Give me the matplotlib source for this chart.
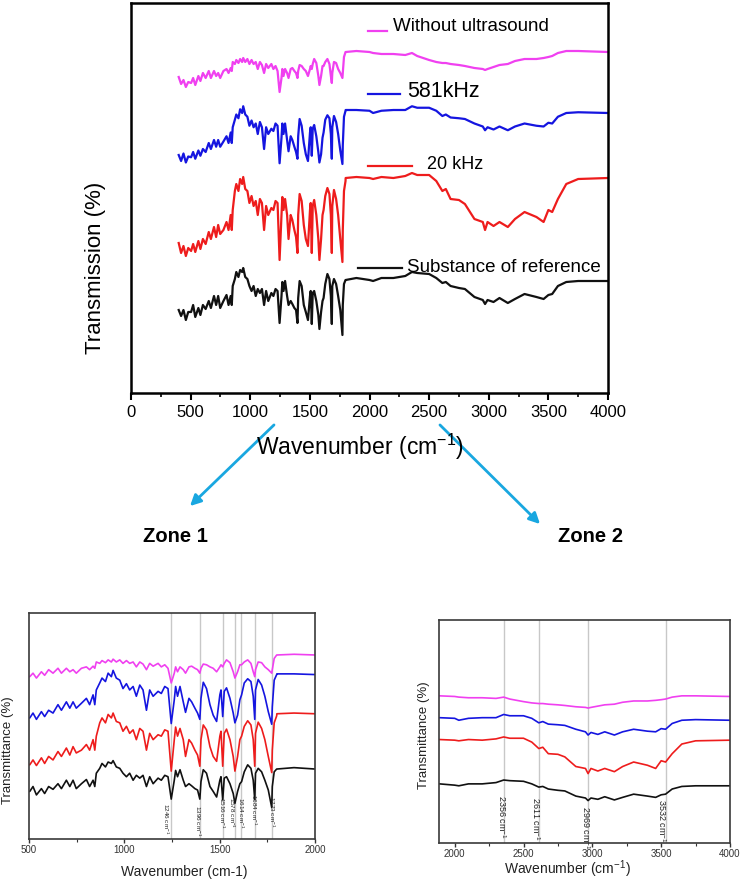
import numpy as np
import matplotlib.pyplot as plt
from matplotlib.patches import FancyArrowPatch
from matplotlib.lines import Line2D
from matplotlib.ticker import MultipleLocator

plt.rcParams['font.family'] = ['Liberation Sans', 'DejaVu Sans']
plt.rcParams['mathtext.fontset'] = 'custom'
plt.rcParams['mathtext.rm'] = 'Liberation Sans'
plt.rcParams['mathtext.it'] = 'Liberation Sans:italic'

# --- spectra (relative transmission, 0 = flat baseline near 2000 cm-1) ---
wn_low = [400, 420, 440, 460, 480,
          504, 521, 539, 565, 582, 603, 626, 652, 670, 696,
          714, 731, 748, 775, 801, 818, 836, 845, 853, 871,
          883, 901, 915, 932, 941, 958, 976, 993, 1011, 1028,
          1046, 1063, 1081, 1098, 1116, 1133, 1151, 1177, 1194, 1212,
          1229,
          1246, 1262, 1269, 1279, 1292, 1309, 1321, 1339, 1353, 1370,
          1384, 1396, 1402, 1414, 1431, 1449, 1466, 1484, 1501, 1507,
          1516, 1524, 1536, 1554, 1571, 1580, 1594, 1606, 1615, 1629,
          1647, 1664, 1676, 1684, 1688, 1702, 1720, 1737, 1755, 1773,
          1776, 1786, 1799]
wn_high = [1800, 1890, 2000, 2030, 2100, 2200, 2300, 2356, 2400, 2500,
           2560, 2611, 2640, 2680, 2750, 2800, 2880, 2950, 2969, 2990,
           3040, 3090, 3160, 3220, 3300, 3400, 3460, 3500, 3532, 3580,
           3650, 3750, 4000]

ref_low = [-30, -36, -30, -40, -32,
           -32, -25, -37, -28, -35, -25, -29, -21, -28, -16,
           -25, -16, -28, -21, -15, -25, -16, -25, -6, 1,
           8, 3, 10, 8, 12, 3, 1, -6, -11, -6,
           -16, -9, -13, -9, -25, -11, -21, -13, -16, -9,
           -11,
           -43, -16, -2, -11, -1, -16, -25, -21, -24, -28,
           -30, -43, -18, -1, -6, -25, -32, -40, -16, -11,
           -44, -13, -11, -21, -35, -49, -32, -21, -18, -4,
           6, 1, -16, -44, -6, 1, -4, -16, -30, -55,
           -25, -4, 0]
ref_high = [0, 2, 0, -1, 2, 2, 4, 8, 7, 6,
            2, -3, -2, -6, -8, -9, -17, -20, -24, -20,
            -22, -18, -23, -19, -14, -17, -19, -15, -14, -6,
            -2, -1, -1]

khz20_low = [-65, -75, -68, -78, -70,
             -73, -66, -74, -63, -71, -61, -66, -54, -61, -49,
             -59, -47, -56, -52, -44, -52, -37, -52, -32, -13,
             -6, -13, -1, -6, 1, -11, -13, -25, -18, -28,
             -23, -37, -21, -25, -52, -28, -37, -30, -32, -23,
             -25,
             -82, -37, -19, -32, -21, -37, -61, -37, -42, -52,
             -59, -75, -37, -16, -23, -47, -61, -68, -32, -25,
             -75, -28, -22, -37, -61, -82, -61, -37, -32, -18,
             -10, -16, -37, -75, -28, -12, -21, -37, -61, -84,
             -52, -13, -3]
khz20_high = [0, 1, 0, -1, 1, 0, 2, 5, 3, 3,
              -3, -13, -11, -21, -22, -26, -41, -44, -52, -44,
              -48, -44, -49, -41, -34, -39, -44, -32, -34, -21,
              -6, -1, 0]

khz581_low = [-60, -68, -58, -70, -62,
              -63, -56, -65, -54, -61, -52, -56, -44, -52, -40,
              -49, -40, -49, -42, -35, -44, -30, -44, -23, -13,
              -6, -11, 1, -4, 5, -6, -9, -21, -14, -23,
              -18, -32, -16, -23, -52, -23, -32, -25, -28, -18,
              -21,
              -71, -37, -18, -32, -18, -40, -55, -35, -40, -49,
              -56, -65, -35, -12, -21, -44, -59, -68, -30, -23,
              -61, -25, -20, -35, -56, -70, -59, -37, -30, -13,
              -7, -11, -32, -65, -23, -8, -16, -32, -54, -72,
              -47, -9, -1]
khz581_high = [0, 0, -1, -4, -1, 0, 0, 5, 3, 3,
               -1, -8, -6, -10, -11, -12, -18, -22, -27, -23,
               -26, -22, -27, -22, -18, -21, -22, -17, -18, -9,
               -4, -3, -4]

noUS_low = [-25, -32, -28, -35, -30,
            -31, -26, -33, -24, -29, -21, -26, -19, -26, -19,
            -24, -21, -26, -19, -17, -21, -16, -19, -10, -12,
            -8, -11, -7, -10, -6, -10, -7, -12, -8, -12,
            -10, -17, -10, -13, -21, -12, -16, -12, -17, -14,
            -19,
            -40, -26, -17, -24, -17, -21, -26, -17, -16, -19,
            -21, -26, -19, -13, -14, -17, -19, -24, -17, -14,
            -17, -12, -7, -11, -24, -33, -24, -14, -14, -10,
            -7, -12, -24, -31, -21, -10, -11, -17, -21, -26,
            -21, -5, 0]
noUS_high = [0, 1, 0, -1, -2, -2, -3, -1, -4, -8,
             -10, -11, -11, -12, -13, -14, -16, -17, -18, -17,
             -15, -13, -12, -9, -7, -7, -6, -5, -4, -1,
             1, 1, 0]

labels = ['Substance of reference', '20 kHz', '581kHz', 'Without ultrasound']
colors = ['#111111', '#EE1C1C', '#1515E0', '#F040F0']

zone1_peaks = [1246, 1396, 1516, 1578, 1614, 1684, 1773]
zone1_label_x = [1218, 1385, 1512, 1562, 1610, 1680, 1771]
zone1_label_y = [51, 49, 60, 60, 60, 64, 61]
zone2_peaks = [2356, 2611, 2969, 3532]
zone2_label_x = [2339, 2589, 2953, 3505]
zone2_label_y = [74, 71, 57, 68]

wn = np.array(wn_low + wn_high)
spectra = [np.array(ref_low + ref_high), np.array(khz20_low + khz20_high),
           np.array(khz581_low + khz581_high), np.array(noUS_low + noUS_high)]

W, H = 740, 881
fig = plt.figure(figsize=(W / 100, H / 100), dpi=100)


def box(x0, y0, x1, y1):
    return [x0 / W, 1 - y1 / H, (x1 - x0) / W, (y1 - y0) / H]


# --- main panel ---
ax = fig.add_axes(box(131, 3, 608, 393))
offsets = [113, 215, 283, 341]
scales = [1, 1, 0.75, 1]
for s, off, k, c in zip(spectra, offsets, scales, colors):
    ax.plot(wn, off + k * s, color=c, lw=1.6)
ax.set_xlim(0, 4000)
ax.set_ylim(0, 390)
ax.xaxis.set_major_locator(MultipleLocator(500))
ax.xaxis.set_minor_locator(MultipleLocator(250))
ax.tick_params(axis='x', which='major', direction='out', length=5, width=1.5, labelsize=12)
ax.tick_params(axis='x', which='minor', direction='out', length=3, width=1.2)
ax.set_yticks([])
for sp in ax.spines.values():
    sp.set_linewidth(1.8)

# legend-like labels
leg = [((0.476, 0.568), 0.321, 0.579, 0.321, 13.5),
       ((0.497, 0.589), 0.582, 0.621, 0.585, 13),
       ((0.497, 0.564), 0.767, 0.579, 0.772, 15.5),
       ((0.497, 0.537), 0.929, 0.549, 0.940, 13.5)]
for (xs, yl, xt, yt, fs), lab, c in zip(leg, labels, colors):
    ax.add_line(Line2D(xs, [yl, yl], color=c, lw=1.6, transform=ax.transAxes))
    ax.text(xt, yt, lab, transform=ax.transAxes, fontsize=fs, va='center', ha='left')

fig.text(360 / W, 1 - 447 / H, 'Wavenumber (cm$^{-1}$)', fontsize=16.5, ha='center', va='center')
fig.text(95 / W, 1 - 268 / H, 'Transmission (%)', fontsize=16, rotation=90, ha='center', va='center')

# arrows and zone titles
arrow_col = '#19A7E0'
for (x0, y0), (x1, y1) in [((276, 423), (188, 508)), ((438, 423), (542, 526))]:
    fig.add_artist(FancyArrowPatch((x0 / W, 1 - y0 / H), (x1 / W, 1 - y1 / H),
                                   transform=fig.transFigure, arrowstyle='-|>',
                                   mutation_scale=16, lw=2, color=arrow_col))
fig.text(175 / W, 1 - 537 / H, 'Zone 1', fontsize=14.5, fontweight='bold', ha='center', va='center')
fig.text(590 / W, 1 - 537 / H, 'Zone 2', fontsize=14.5, fontweight='bold', ha='center', va='center')


def zoom_panel(rect, xlim, offs, ylim, peaks, peak_x, peak_y, fs_peak):
    a = fig.add_axes(rect)
    for p in peaks:
        a.axvline(p, color='#c8c8c8', lw=1, zorder=0)
    for s, off, c in zip(spectra, offs, colors):
        a.plot(wn, off + s, color=c, lw=1.2)
    for p, x, y in zip(peaks, peak_x, peak_y):
        a.text(x, y, f'{p} cm$^{{-1}}$', rotation=-90, fontsize=fs_peak,
               ha='center', va='top', color='#222222')
    a.set_xlim(*xlim)
    a.set_ylim(*ylim)
    a.set_yticks([])
    a.xaxis.set_major_locator(MultipleLocator(500))
    a.xaxis.set_minor_locator(MultipleLocator(250))
    a.tick_params(axis='x', which='major', direction='out', length=3, width=1,
                  labelsize=7, pad=1.5, colors='#333333')
    a.tick_params(axis='x', which='minor', direction='out', length=2, width=0.8, colors='#333333')
    for sp in a.spines.values():
        sp.set_linewidth(1.2)
        sp.set_color('#3a3a3a')
    return a


zoom_panel(box(29, 613, 315, 839), (500, 2000), [100, 179, 236, 263], (0, 323),
           zone1_peaks, zone1_label_x, zone1_label_y, 4.6)
fig.text(184 / W, 1 - 879 / H, 'Wavenumber (cm-1)', fontsize=10, ha='center', va='bottom', color='#222222')
fig.text(8 / W, 1 - 750 / H, 'Transmittance (%)', fontsize=9.5, rotation=90, ha='center', va='center', color='#222222')

zoom_panel(box(439, 620, 730, 843), (1886, 4000), [90, 160, 195, 228], (0, 347),
           zone2_peaks, zone2_label_x, zone2_label_y, 6.5)
fig.text(567 / W, 1 - 880 / H, 'Wavenumber (cm$^{-1}$)', fontsize=10, ha='center', va='bottom', color='#222222')
fig.text(424 / W, 1 - 735 / H, 'Transmittance (%)', fontsize=9.5, rotation=90, ha='center', va='center', color='#222222')

fig.savefig('out.png', dpi=100)
